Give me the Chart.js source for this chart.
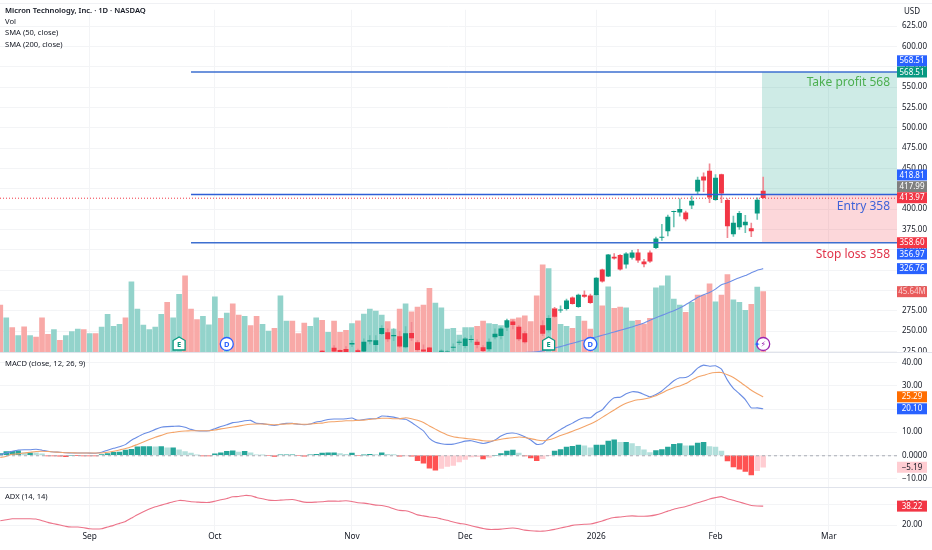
<!DOCTYPE html>
<html><head><meta charset="utf-8">
<style>html,body{margin:0;padding:0;background:#fff}canvas{display:block}</style>
<script src="https://cdn.jsdelivr.net/npm/chart.js@4"></script>
</head><body><canvas id="c" width="932" height="550"></canvas>
<script>
const categories = [
"Aug 11","Aug 12","Aug 13","Aug 14","Aug 15","Aug 18","Aug 19","Aug 20","Aug 21","Aug 22","Aug 25","Aug 26","Aug 27","Aug 28","Aug 29",
"Sep 2","Sep 3","Sep 4","Sep 5","Sep 8","Sep 9","Sep 10","Sep 11","Sep 12","Sep 15","Sep 16","Sep 17","Sep 18","Sep 19","Sep 22","Sep 23","Sep 24","Sep 25","Sep 26","Sep 29","Sep 30",
"Oct 1","Oct 2","Oct 3","Oct 6","Oct 7","Oct 8","Oct 9","Oct 10","Oct 13","Oct 14","Oct 15","Oct 16","Oct 17","Oct 20","Oct 21","Oct 22","Oct 23","Oct 24","Oct 27","Oct 28","Oct 29","Oct 30","Oct 31",
"Nov 3","Nov 4","Nov 5","Nov 6","Nov 7","Nov 10","Nov 11","Nov 12","Nov 13","Nov 14","Nov 17","Nov 18","Nov 19","Nov 20","Nov 21","Nov 24","Nov 25","Nov 26","Nov 28",
"Dec 1","Dec 2","Dec 3","Dec 4","Dec 5","Dec 8","Dec 9","Dec 10","Dec 11","Dec 12","Dec 15","Dec 16","Dec 17","Dec 18","Dec 19","Dec 22","Dec 23","Dec 24","Dec 26","Dec 29","Dec 30","Dec 31",
"Jan 2","Jan 5","Jan 6","Jan 7","Jan 8","Jan 9","Jan 12","Jan 13","Jan 14","Jan 15","Jan 16","Jan 20","Jan 21","Jan 22","Jan 23","Jan 26","Jan 27","Jan 28","Jan 29","Jan 30",
"Feb 2","Feb 3","Feb 4","Feb 5","Feb 6","Feb 9","Feb 10","Feb 11","Feb 12","Feb 13","Feb 17","Feb 18","Feb 19","Feb 20","Feb 23","Feb 24","Feb 25","Feb 26","Feb 27",
"Mar 2","Mar 3","Mar 4","Mar 5","Mar 6","Mar 9","Mar 10","Mar 11","Mar 12","Mar 13","Mar 16","Mar 17"];
const monthTicks = [["Sep 2","Sep"],["Oct 1","Oct"],["Nov 3","Nov"],["Dec 1","Dec"],["Jan 2","2026"],["Feb 2","Feb"],["Mar 2","Mar"]];

const volume = [35.6,26.1,18.7,12.7,19.4,12.7,11.7,26.1,13.7,17.2,9.2,12.7,15.7,17.7,17.2,14.2,14.2,19.2,28.6,19.7,21.2,26.1,53,32.6,20.7,17.2,19.2,28.6,37.6,26.1,43.6,57.5,32.6,24.7,27.1,20.9,41.8,25.6,29.6,36.6,28.1,27.1,20.2,27.1,21.2,16.2,18.2,42.6,23.7,23.7,14.2,22.2,19.7,26.1,24.2,15.2,23.7,15.2,16.7,21.7,23.9,28.9,32.6,31.1,28.1,23.2,17.7,
32.6,36.6,30.6,34.1,35.6,48.1,37.1,33.6,17.7,18.2,13.2,18.7,18.7,19.7,23.7,21.7,21.2,20.2,18.2,25.1,26.1,27.6,23.2,42.6,65.7,63,33.1,21.2,19.7,18.2,27.1,23.7,17.7,43.3,35.1,49.3,33.1,34.1,33.6,23.7,24.2,21.4,25.6,48.6,50,57.5,40.1,35.6,30.1,37.6,43.1,43.1,51.5,38.1,43.1,58.5,39.6,37.6,31.6,36.1,49.1,45.64];
const volumeUp = [0,1,0,1,0,1,0,0,0,1,0,1,1,1,0,1,0,1,1,1,1,0,1,1,1,1,1,1,0,1,1,0,0,0,1,1,1,0,1,0,0,1,0,0,1,1,0,1,1,0,0,0,1,1,0,1,0,0,0,1,0,1,1,1,1,0,1,
0,1,0,0,0,0,1,1,1,1,1,1,1,0,0,1,1,1,1,0,0,0,0,0,0,1,0,1,1,0,1,0,0,1,0,1,0,0,1,1,0,0,0,1,1,1,1,1,0,1,0,0,0,1,0,0,1,1,1,0,1,0];

const candleStart = 54;
const candleOpen = [225.5,null,229,226.4,227.6,234,226,225.2,237.5,233.4,246.8,248.1,244,243.2,230.5,247.2,235.8,226.8,229.3,null,225,224.3,229.8,235.9,232.1,239.4,236.6,229.7,228,242.8,244.4,254.6,261.5,255,246.8,null,null,256.6,251.3,277,275.6,277.5,291,279.9,294.2,293.4,294.6,325.3,317.5,341,343.2,332.2,340.4,346.1,335.1,346.1,352.6,365,373,396.8,396.3,395.5,404.9,422.1,439.6,446.6,411.5,442.5,410.6,369.4,378,380.4,375.9,395.1,422.1];
const candleClose = [223.8,null,225.2,223.6,223.6,235,223.5,236.6,238.3,238.3,253.4,240.3,244.8,231.3,246.8,241.5,227.2,225.2,223.6,null,225.4,224.6,230.4,236.5,240.3,239.9,233.4,226,236.6,246.4,252.6,262.8,257.9,240.3,236.6,null,null,247.2,265.6,268.1,276.1,287.3,283.6,294.2,292.6,284.8,315,311.4,343.6,339.5,326.1,344.9,346.1,337.1,332.6,335.9,363.3,365.6,390.2,397.3,399.6,387.8,409.8,435.6,435.6,414.7,438,419.6,379.2,382.9,394.7,384.1,373,411.1,413.97];
const candleHigh = [226,null,232.1,227,230.9,238.3,228,240.3,244.4,244.4,256.6,252.6,252.6,249.7,255.4,260.7,238.3,233,230,null,227,226,234.2,239,242.3,244.4,239.5,232.1,240.3,252.6,254.6,264.8,263.6,256.6,249.7,null,null,262.8,268.9,279.1,281.1,289.3,292,295.5,299.5,295.5,315.9,326.1,344.5,345.3,344,346.5,349.4,350.6,338.3,348.6,365.7,381.2,392.7,397.6,412.7,397.6,416,439.2,444.5,455.6,442.5,443,412.7,391.4,397.2,392.3,382.9,413.9,439.2];
const candleLow = [223,null,224,223,223,230.9,223,223.6,234.2,226,245.6,237.4,238.3,230,229.3,238.3,225.2,223.6,223,null,224,223.6,226,233.4,229.3,236.2,229.3,224.4,226,240.3,240.3,250.5,252.6,238.3,235,null,null,244.4,248.5,266.9,273,275.8,283,279.1,291.4,284,293.4,310.2,317,338.3,324.9,327.3,338.3,334.3,328.9,334.3,351.4,361.6,366.9,378,391.4,385.3,400.4,418,421.3,407.8,410.6,407.8,364.9,366.5,375.1,371,366.1,387.4,413.1];

const smaStart = 88;
const sma50 = [223.6,224,224.6,225.6,227.2,229.3,230.9,233,235,237,239,241.1,242.8,244.8,246.8,248.9,250.9,253,255,257.5,259.9,263.2,266.4,269.3,272.2,275,278.3,282.4,286.9,291.4,294.6,297.5,301.6,306.9,309.3,312.6,315.5,318.3,321.6,324.9,326.76];

const macdLine = [0.3,1,1.7,2.3,2.4,2.4,2.6,2.2,1.7,1.4,1.3,1.1,1,1,1,0.9,0.9,1.3,2.2,3,3.7,4.6,6.5,7.9,9.2,10.1,11.2,12.1,12.4,12.5,12.6,12.1,11.2,10.6,10.5,10.6,11.5,12.4,13.2,14.1,14.4,14.9,15.1,13.8,13.7,13.2,12.9,13.4,13.8,13.8,13.4,13.2,13.5,14.4,14.8,15.5,15.7,15.7,15.8,16.1,15.1,15.5,15.8,15.8,17,16.8,16.5,15.8,
15.6,14.2,12.4,10.5,7.3,5.6,5,4.7,4.8,5.4,6.1,6.3,5.6,5.1,5.6,6.6,8.3,9.4,9.6,9.1,8,6.6,4.7,5,7.6,9.5,11.1,12.7,13.9,15.4,16.2,16.2,18.3,19.7,22.7,24.9,25.1,26.6,27.5,27.3,26.3,25.3,26.3,27.8,30,32.2,33.5,33.6,35.1,37.7,39,38.5,38.7,37.3,32.5,28.9,26.6,24.1,20.5,20.5,20.1];
const macdSignal = [-1,-0.4,0.4,0.6,1,1.3,1.6,1.7,1.6,1.4,1.3,1.1,1.1,1,1,1,1,1,1.3,1.7,2.3,2.9,3.7,4.7,5.7,6.8,7.8,8.6,9.5,9.9,10.3,10.5,10.6,10.6,10.6,10.6,10.9,11.4,11.8,12.2,12.6,13.1,13.4,13.5,13.5,13.4,13.2,13.4,13.5,13.7,13.5,13.4,13.5,13.8,13.9,14.4,14.5,14.7,14.9,14.9,15.1,15.2,15.5,15.8,16,16,15.8,15.8,
16.2,15.8,15.1,14.2,12.7,11.3,9.9,8.8,8,7.6,7.3,7,6.7,6.3,6.1,6.4,6.9,7.3,7.6,7.9,7.7,7.2,6.6,6.3,6.7,7.5,8.5,9.4,10.4,11.4,12.4,13.5,14.8,16.4,18,19.6,21.2,22.5,23.4,24,24.3,24.9,25.7,26.9,28.2,29.2,30,31,32.5,33.9,34.6,35.4,35.8,35.8,34.8,33.6,31.9,30,28.1,26.6,25.29];
const macdHist = [0.7,1.6,1.7,1.9,1.1,1.1,1,0.6,-0.3,-0.3,-0.4,-0.6,0,-0.1,-0.3,-0.3,-0.3,0.3,0.7,1.3,1.4,2.2,2.6,3.6,3.7,3.7,3.6,3.7,3.2,3.2,2.3,1.6,0.9,0.1,-0.3,-0.3,0.6,1.1,1.7,1.9,1.4,1.7,1.1,0.2,0.1,-0.2,-0.5,0.2,0.2,0.2,-0.2,-0.4,0.2,0.4,0.9,1,1.1,0.7,0.4,0.9,-0.2,0.1,0.4,0.3,1.1,0.4,0.3,-0.4,
-0.3,-0.4,-2.3,-3.4,-5.6,-6.4,-5.7,-4.8,-4.4,-2.9,-1.8,-0.7,-0.6,-1.6,-0.9,0,0.7,1.8,2.2,0.9,-0.3,-1.2,-2.3,-1.5,-0.1,1.8,2.5,3.5,3.9,4.4,4.1,3.2,4.4,4.4,6.1,6.7,5.6,5.6,5,3.9,2.3,1.2,2,2.5,3.5,4.7,5.1,4.1,4.1,5.3,5.6,3.8,3.5,1.8,-2.5,-5.1,-6,-7,-8.5,-6.7,-5.19];

const adx = [24.2,25.1,26.1,26.1,26.1,26.1,25.8,24.2,22.6,21.3,20,18.7,18.1,18.1,17.4,16.5,16.2,16.5,18.1,19.7,21.6,23.5,26.7,29.9,32.8,35.4,37.6,39.2,40.8,42.4,43.7,43.4,42.4,42.1,41.8,41.8,43,44.3,45.6,47.2,47.5,48.5,48.2,46.6,45.3,44,43.7,44,44.3,44.6,43.4,42.1,41.8,42.1,42.4,43,43,43,43.4,42.7,41.4,41.1,40.2,39.2,38.9,37.6,35.7,34.1,
33.7,32.1,29.8,28.8,27.8,27.2,25.9,24.6,22.9,21.6,20.7,19.3,18,16.7,15.8,15.8,16.1,16.7,17.1,16.4,15.1,14.5,14.1,14.1,14.8,15.8,17.1,18.4,19.7,20.3,20.7,21,22.3,23.9,25.9,27.2,27.8,28.5,28.8,28.5,28.5,28.8,29.8,31.4,33.4,35.3,36.6,37.9,39.6,41.5,43.1,45.1,46.4,47.4,45.4,43.8,42.2,40.5,38.9,38.3,38.22];

const takeProfit = 568.51, entryPrice = 417.99, stopLoss = 358.6, lastClose = 413.97;
const legendLines = ["Micron Technology, Inc. · 1D · NASDAQ","Vol","SMA (50, close)","SMA (200, close)"];
const macdTitle = "MACD (close, 12, 26, 9)", adxTitle = "ADX (14, 14)";
const priceTags = [
 ["price",568.51,"568.51","#2962ff","#fff",-11.2],
 ["price",568.51,"568.51","#089981","#fff",0],
 ["price",418.81,"418.81","#2962ff","#fff",-18.8],
 ["price",417.99,"417.99","#7f7f7f","#fff",-7.8],
 ["price",413.97,"413.97","#f23645","#fff",0],
 ["price",358.6,"358.60","#f23645","#fff",0],
 ["price",356.97,"356.97","#2962ff","#fff",10],
 ["price",326.76,"326.76","#2962ff","#fff",0],
 ["vol",45.64,"45.64M","#e95b5b","#fbd0d0",0],
 ["macd",25.29,"25.29","#ff6d00","#fff",0],
 ["macd",20.1,"20.10","#2962ff","#fff",0],
 ["macd",-5.19,"\u22125.19","#ffcdd2","#131722",0],
 ["adx",38.22,"38.22","#f23645","#fff",0]];
const badges = [["E","Sep 23"],["D","Oct 3"],["E","Dec 19"],["D","Dec 31"],["*","Feb 12"]];

const FONT = '"Noto Sans"';
const GREEN="#089981", RED="#f23645";
const xy = (arr,start=0)=>arr.map((v,i)=>({x:i+start,y:v}));
const rightAxis = {position:'right',stack:'panes',grid:{color:'#f3f4f6',drawTicks:false},border:{display:false},
  afterFit(s){s.width=35}};
function only(step){return s=>{s.ticks=s.ticks.filter(t=>Math.abs(t.value/step-Math.round(t.value/step))<1e-6)}}
const tickStyle=(cb)=>({color:'#131722',font:{family:FONT,size:8},padding:5,crossAlign:'near',callback:cb,includeBounds:false,autoSkip:false});

const panes = {
 id:'panes',
 beforeDatasetsDraw(ch){
  const c=ch.ctx,s=ch.scales,a=ch.chartArea,x0=s.x.getPixelForValue(categories.indexOf("Feb 12")-0.2);
  const yT=s.price.getPixelForValue(takeProfit),yE=s.price.getPixelForValue(entryPrice),yS=s.price.getPixelForValue(stopLoss);
  c.save();
  c.fillStyle='rgba(8,153,129,0.2)';c.fillRect(x0,yT,a.right-x0,yE-yT);
  c.fillStyle='rgba(242,54,69,0.2)';c.fillRect(x0,yE,a.right-x0,yS-yE);
  c.restore();
 },
 afterDatasetsDraw(ch){
  const c=ch.ctx,s=ch.scales,a=ch.chartArea,W=ch.width;
  c.save();
  const yC=s.price.getPixelForValue(lastClose);
  c.setLineDash([1,2]);c.strokeStyle='#f23645';c.lineWidth=1;c.beginPath();c.moveTo(0,yC+.5);c.lineTo(a.right,yC+.5);c.stroke();
  const y0=s.macd.getPixelForValue(0);
  c.setLineDash([3,3]);c.strokeStyle='#a9acb5';c.beginPath();c.moveTo(0,y0+.5);c.lineTo(a.right,y0+.5);c.stroke();
  c.setLineDash([]);
  // trade texts
  c.textAlign='right';c.textBaseline='middle';c.font='12px '+FONT;
  c.fillStyle='#4caf50';c.fillText('Take profit 568',890,s.price.getPixelForValue(takeProfit)+11);
  c.fillStyle='#3f63d8';c.fillText('Entry 358',890,s.price.getPixelForValue(entryPrice)+12);
  c.fillStyle='#e0344a';c.fillText('Stop loss 358',890,s.price.getPixelForValue(stopLoss)+12);
  // badges
  badges.forEach(([k,d])=>{
    const x=s.x.getPixelForValue(categories.indexOf(d)),y=344;
    c.lineWidth=1.3;c.fillStyle='#fff';
    if(k==='E'){c.strokeStyle=GREEN;c.beginPath();c.moveTo(x,y-7);c.lineTo(x+6,y-3.5);c.lineTo(x+6,y+6);c.lineTo(x-6,y+6);c.lineTo(x-6,y-3.5);c.closePath();c.fill();c.stroke();c.fillStyle=GREEN;}
    else if(k==='D'){c.strokeStyle='#2962ff';c.beginPath();c.arc(x,y,6.5,0,7);c.fill();c.stroke();c.fillStyle='#2962ff';}
    else{c.strokeStyle='#9c27b0';c.beginPath();c.arc(x,y,6.5,0,7);c.fill();c.stroke();
      c.fillStyle='#9c27b0';c.font='8px "DejaVu Sans"';c.textAlign='center';c.fillText('\u26A1',x,y+.5);
      c.fillStyle='#2962ff';c.fillText('\u2726',x-6,y+1);return;}
    c.font='bold 7.5px '+FONT;c.textAlign='center';c.fillText(k,x,y+.5);
  });
  // legend
  c.textAlign='left';c.fillStyle='#131722';c.textBaseline='middle';
  legendLines.forEach((t,i)=>{c.font=(i===0?'600 ':'')+'7.6px '+FONT;c.fillText(t,5,10.5+i*11.3)});
  c.font='7.6px '+FONT;c.fillText(macdTitle,5,364);c.fillText(adxTitle,5,497);
  // separators + axis masks
  c.strokeStyle='#e0e3eb';c.lineWidth=1;
  c.fillStyle='#fff';c.fillRect(a.right,352,W-a.right,5);
  [352.5,487.5].forEach(y=>{c.beginPath();c.moveTo(0,y);c.lineTo(W,y);c.stroke()});
  c.strokeStyle='#f0f1f4';c.beginPath();c.moveTo(0,3.5);c.lineTo(W,3.5);c.stroke();
  c.fillStyle='#fff';c.fillRect(a.right,4,W-a.right,16);
  c.fillStyle='#131722';c.textAlign='left';c.font='8px '+FONT;c.fillText('USD',904,12);
  // price tags
  priceTags.forEach(([sc,v,t,bg,fg,dy])=>{
    const y=s[sc].getPixelForValue(v)+dy;
    c.fillStyle=bg;c.fillRect(a.right,y-5.5,30,11);
    c.fillStyle=fg;c.textAlign='center';c.font='8px '+FONT;c.fillText(t,a.right+15,y+.3);
  });
  c.restore();
 }
};

new Chart(document.getElementById('c'),{
 type:'bar',
 plugins:[panes],
 data:{datasets:[
  {type:'line',yAxisID:'price',data:[{x:32,y:takeProfit},{x:150.45,y:takeProfit}],borderColor:'#3d6fd0',borderWidth:1.6,pointRadius:0,order:1},
  {type:'line',yAxisID:'price',data:[{x:32,y:entryPrice},{x:150.45,y:entryPrice}],borderColor:'#2f5fd6',borderWidth:1.6,pointRadius:0,order:1},
  {type:'line',yAxisID:'price',data:[{x:32,y:stopLoss},{x:150.45,y:stopLoss}],borderColor:'#3d6fd0',borderWidth:1.6,pointRadius:0,order:1},
  {type:'line',yAxisID:'price',data:xy(sma50,smaStart),borderColor:'#6d8fe6',borderWidth:1.1,pointRadius:0,order:3},
  {yAxisID:'price',grouped:false,barThickness:4.3,order:4,
   data:candleOpen.map((o,i)=>o===null?null:{x:i+candleStart,y:[o,candleClose[i]]}).filter(Boolean),
   backgroundColor:candleOpen.map((o,i)=>o===null?null:(candleClose[i]>=o?GREEN:RED)).filter(Boolean)},
  {yAxisID:'price',grouped:false,barThickness:1,order:5,
   data:candleOpen.map((o,i)=>o===null?null:{x:i+candleStart,y:[candleLow[i],candleHigh[i]]}).filter(Boolean),
   backgroundColor:candleOpen.map((o,i)=>o===null?null:(candleClose[i]>=o?'#6fc4b5':'#f08a93')).filter(Boolean)},
  {yAxisID:'vol',grouped:false,barThickness:5,order:10,data:xy(volume),
   backgroundColor:volumeUp.map(u=>u?'#93d3cb':'#f8a9a7')},
  {yAxisID:'macd',grouped:false,barThickness:4.8,order:8,data:xy(macdHist),
   backgroundColor:macdHist.map((v,i)=>{const p=i?macdHist[i-1]:0;return v>=0?(v>=p?'#26a69a':'#b2dfdb'):(v<=p?'#ff5252':'#ffcdd2')})},
  {type:'line',yAxisID:'macd',data:xy(macdSignal),borderColor:'#f3a469',borderWidth:1.1,pointRadius:0,order:6},
  {type:'line',yAxisID:'macd',data:xy(macdLine),borderColor:'#6a8de4',borderWidth:1.1,pointRadius:0,order:6},
  {type:'line',yAxisID:'adx',data:xy(adx),borderColor:'#ec7389',borderWidth:1.1,pointRadius:0,order:6}
 ]},
 options:{
  responsive:false,animation:false,devicePixelRatio:1,
  layout:{padding:{top:8,right:0,left:0,bottom:0}},
  plugins:{legend:{display:false},tooltip:{enabled:false}},
  elements:{line:{tension:0.15},bar:{borderWidth:0}},
  scales:{
   x:{type:'linear',min:-0.05,max:150.45,offset:false,
      grid:{color:'#f3f4f6',offset:false,drawTicks:false},border:{display:false},
      afterBuildTicks(s){s.ticks=monthTicks.map(m=>({value:categories.indexOf(m[0])}))},
      afterFit(s){s.height=18},
      ticks:{autoSkip:false,maxRotation:0,padding:0,color:'#131722',font:{family:FONT,size:8.3},
        callback(v){const m=monthTicks.find(m=>categories.indexOf(m[0])===v);return m?m[1]:''}}},
   price:{...rightAxis,axis:'y',weight:1,stackWeight:344,min:223.5,max:645,
      afterBuildTicks:only(25),
      ticks:{...tickStyle(v=>v.toFixed(2)),stepSize:25}},
   macd:{...rightAxis,axis:'y',weight:2,stackWeight:135,min:-13.8,max:44.4,
      afterBuildTicks:only(10),
      ticks:{...tickStyle(v=>v===0?'0.0000':(v<0?'\u2212':'')+Math.abs(v).toFixed(2)),stepSize:10}},
   adx:{...rightAxis,axis:'y',weight:3,stackWeight:45,min:13.3,max:56.5,
      afterBuildTicks:only(20),
      ticks:{...tickStyle(v=>v.toFixed(2)),stepSize:20}},
   vol:{axis:'y',display:false,position:'left',min:-134.3,max:256.7}
  }
 }
});
</script></body></html>
